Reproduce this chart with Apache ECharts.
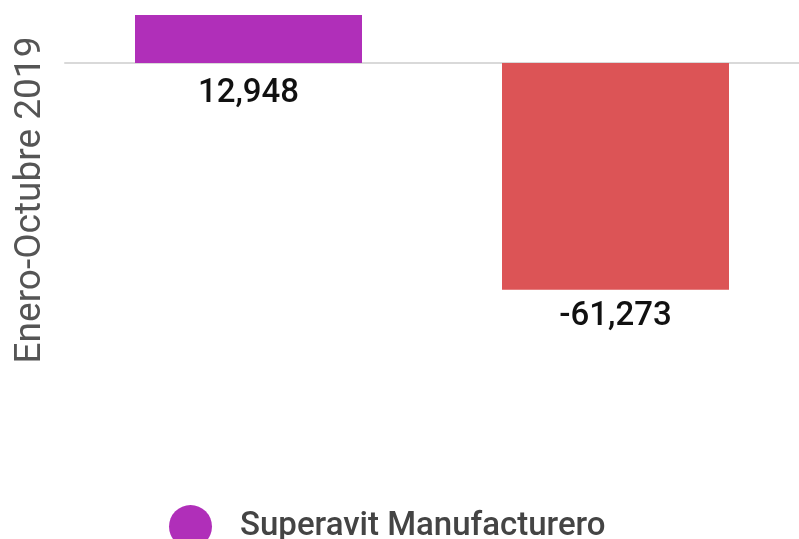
<!DOCTYPE html>
<html><head><meta charset="utf-8">
<script src="https://cdn.jsdelivr.net/npm/echarts@6/dist/echarts.min.js"></script>
<style>html,body{margin:0;padding:0;background:#fff}#c{width:799px;height:539px}</style>
</head><body><div id="c"></div>
<script>
const categories = ['Superavit Manufacturero', 'Deficit Otros'];
const values = [12948, -61273];
const barColors = ['#B02FB9', '#DC5456'];
const seriesName = 'Superavit Manufacturero';
const axisName = 'Enero-Octubre 2019';

const chart = echarts.init(document.getElementById('c'));
const labelDistances = [14, 10];
chart.setOption({
  animation: false,
  textStyle: { fontFamily: 'Roboto' },
  grid: { left: 65, right: 0, top: 15, bottom: 154 },
  legend: {
    left: 164, top: 500,
    icon: 'circle', itemWidth: 43, itemHeight: 43,
    textStyle: { fontSize: 33, fontWeight: 500, color: '#444', fontFamily: 'Roboto', padding: [0, 0, 0, 23] },
    data: [{ name: seriesName, itemStyle: { color: barColors[0] } }]
  },
  xAxis: {
    type: 'category', data: categories,
    axisLine: { show: true, lineStyle: { color: '#d9d9d9', width: 2 } },
    axisTick: { show: false }, axisLabel: { show: false }
  },
  yAxis: {
    type: 'value', min: -87000, max: Math.max(...values),
    name: axisName, nameLocation: 'middle', nameGap: 16, nameRotate: 90,
    nameTextStyle: { fontSize: 37, color: '#555', fontFamily: 'Roboto' },
    axisLine: { show: false }, axisTick: { show: false }, axisLabel: { show: false },
    splitLine: { show: false }
  },
  series: [{
    name: seriesName, type: 'bar', barWidth: 227,
    data: values.map((v, i) => ({ value: v, itemStyle: { color: barColors[i] }, label: { distance: labelDistances[i] } })),
    label: {
      show: true, position: 'bottom',
      fontSize: 33, fontWeight: 500, color: '#111', fontFamily: 'Roboto',
      formatter: p => p.value.toLocaleString('en-US')
    }
  }]
});
</script></body></html>
